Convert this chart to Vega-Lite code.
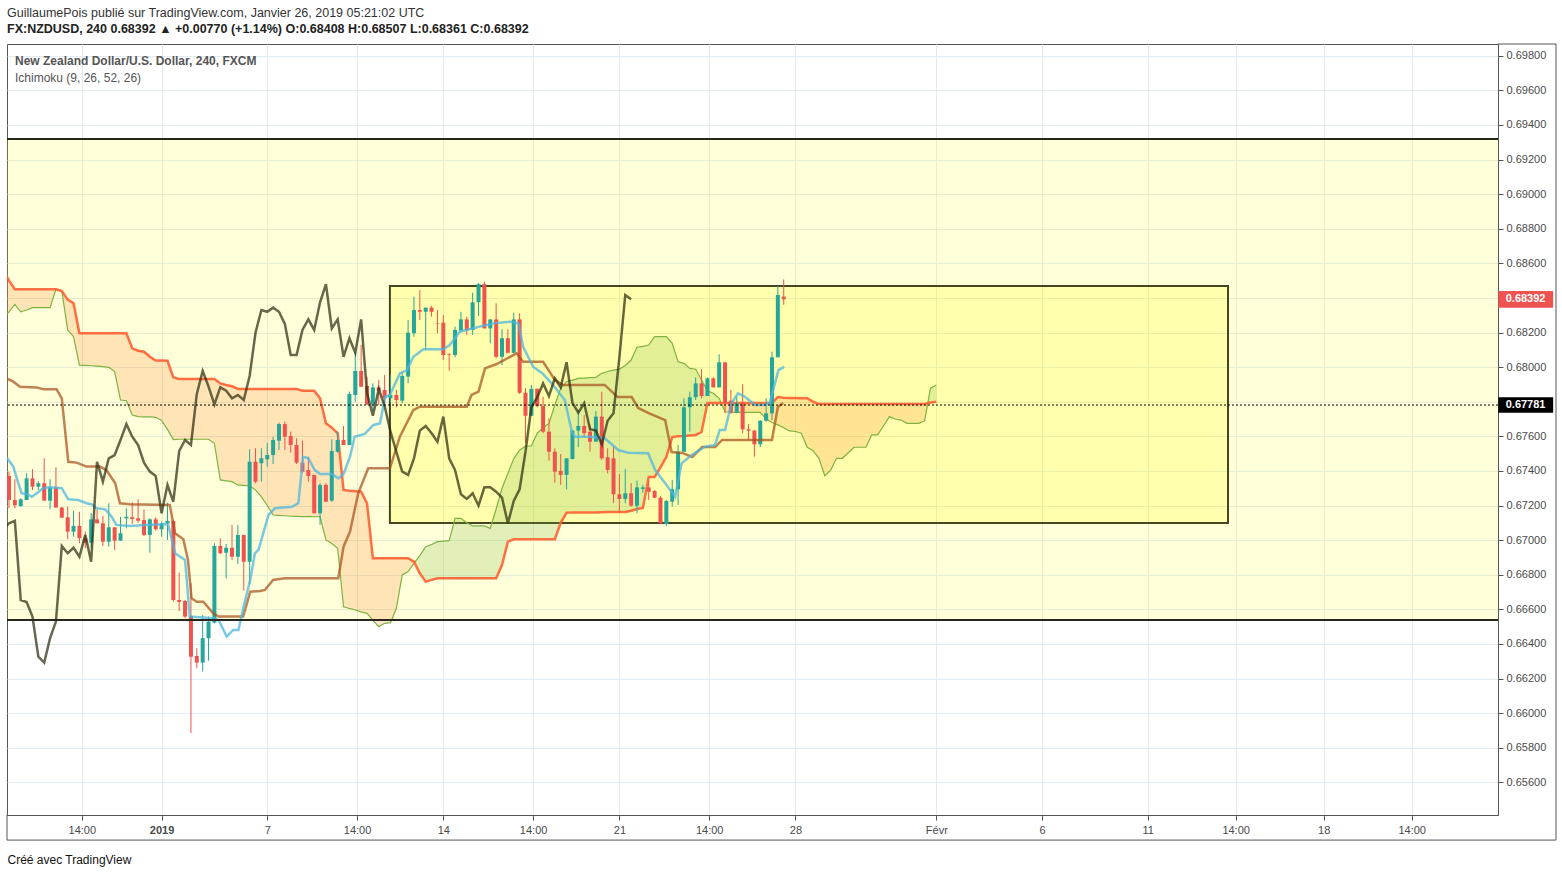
{
"$schema": "https://vega.github.io/schema/vega-lite/v6.json",
"width": 1491, "height": 771,
"autosize": {"type": "none"},
"padding": {"left": 7, "top": 44, "right": 64, "bottom": 62},
"background": "white",
"title": {
 "text": "GuillaumePois publié sur TradingView.com, Janvier 26, 2019 05:21:02 UTC",
 "subtitle": "FX:NZDUSD, 240  0.68392 ▲ +0.00770 (+1.14%)  O:0.68408  H:0.68507  L:0.68361  C:0.68392",
 "anchor": "start", "frame": "group", "offset": 8,
 "font": "Liberation Sans", "fontSize": 12.5, "fontWeight": "normal", "color": "#333333",
 "subtitleFont": "Liberation Sans", "subtitleFontSize": 12.5, "subtitleColor": "#222222", "subtitleFontWeight": "bold", "subtitlePadding": 4
},
"datasets": {
"candles": [
{"k":0,"o":0.67371,"h":0.67396,"l":0.67184,"c":0.67232},
{"k":1,"o":0.67232,"h":0.67352,"l":0.67184,"c":0.67201},
{"k":2,"o":0.67197,"h":0.67242,"l":0.67193,"c":0.67236},
{"k":3,"o":0.67232,"h":0.67386,"l":0.67232,"c":0.67357},
{"k":4,"o":0.67357,"h":0.6741,"l":0.6729,"c":0.67309},
{"k":5,"o":0.67309,"h":0.67342,"l":0.6729,"c":0.67329},
{"k":6,"o":0.67329,"h":0.67473,"l":0.67228,"c":0.67228},
{"k":7,"o":0.67228,"h":0.67352,"l":0.67178,"c":0.67305},
{"k":8,"o":0.67305,"h":0.67421,"l":0.67188,"c":0.67188},
{"k":9,"o":0.67188,"h":0.67192,"l":0.67128,"c":0.6713},
{"k":10,"o":0.67132,"h":0.67193,"l":0.67005,"c":0.67049},
{"k":11,"o":0.67049,"h":0.67168,"l":0.6702,"c":0.67082},
{"k":12,"o":0.67082,"h":0.67164,"l":0.66982,"c":0.67011},
{"k":13,"o":0.67011,"h":0.67049,"l":0.66953,"c":0.66985},
{"k":14,"o":0.66985,"h":0.67155,"l":0.66955,"c":0.6712},
{"k":15,"o":0.6712,"h":0.67178,"l":0.67097,"c":0.67097},
{"k":16,"o":0.67097,"h":0.6714,"l":0.66966,"c":0.66991},
{"k":17,"o":0.66991,"h":0.67213,"l":0.66962,"c":0.67074},
{"k":18,"o":0.67074,"h":0.67076,"l":0.66943,"c":0.66997},
{"k":19,"o":0.66997,"h":0.67135,"l":0.66997,"c":0.6704},
{"k":20,"o":0.67126,"h":0.67184,"l":0.67068,"c":0.67135},
{"k":21,"o":0.67132,"h":0.67219,"l":0.67093,"c":0.67122},
{"k":22,"o":0.67126,"h":0.67236,"l":0.67101,"c":0.67112},
{"k":23,"o":0.67116,"h":0.67178,"l":0.67024,"c":0.6703},
{"k":24,"o":0.6703,"h":0.67126,"l":0.66927,"c":0.6712},
{"k":25,"o":0.6712,"h":0.67132,"l":0.67055,"c":0.67063},
{"k":26,"o":0.67063,"h":0.67107,"l":0.6702,"c":0.67097},
{"k":27,"o":0.67097,"h":0.67216,"l":0.67001,"c":0.67111},
{"k":28,"o":0.67111,"h":0.67116,"l":0.66644,"c":0.66654},
{"k":29,"o":0.66654,"h":0.66812,"l":0.6659,"c":0.66642},
{"k":30,"o":0.66648,"h":0.66654,"l":0.66548,"c":0.66558},
{"k":31,"o":0.66562,"h":0.66751,"l":0.65884,"c":0.66326},
{"k":32,"o":0.6633,"h":0.66375,"l":0.66259,"c":0.66292},
{"k":33,"o":0.66292,"h":0.66567,"l":0.6624,"c":0.66433},
{"k":34,"o":0.66433,"h":0.66558,"l":0.66303,"c":0.66529},
{"k":35,"o":0.66523,"h":0.66982,"l":0.66519,"c":0.66966},
{"k":36,"o":0.66966,"h":0.67011,"l":0.6692,"c":0.66924},
{"k":37,"o":0.66927,"h":0.66978,"l":0.66779,"c":0.66956},
{"k":38,"o":0.66956,"h":0.67088,"l":0.66885,"c":0.66904},
{"k":39,"o":0.66904,"h":0.67088,"l":0.66862,"c":0.6703},
{"k":40,"o":0.6703,"h":0.6703,"l":0.66708,"c":0.66875},
{"k":41,"o":0.66875,"h":0.67525,"l":0.66745,"c":0.67453},
{"k":42,"o":0.67453,"h":0.67531,"l":0.67329,"c":0.67338},
{"k":43,"o":0.67444,"h":0.67531,"l":0.67338,"c":0.67473},
{"k":44,"o":0.67467,"h":0.67563,"l":0.67425,"c":0.67492},
{"k":45,"o":0.67492,"h":0.67598,"l":0.6744,"c":0.67579},
{"k":46,"o":0.67575,"h":0.67679,"l":0.67521,"c":0.67671},
{"k":47,"o":0.67671,"h":0.67685,"l":0.67521,"c":0.67598},
{"k":48,"o":0.67602,"h":0.67627,"l":0.67505,"c":0.6755},
{"k":49,"o":0.6755,"h":0.67589,"l":0.6744,"c":0.67448},
{"k":50,"o":0.67448,"h":0.67575,"l":0.6739,"c":0.67396},
{"k":51,"o":0.67405,"h":0.67482,"l":0.67338,"c":0.67371},
{"k":52,"o":0.67377,"h":0.67377,"l":0.67155,"c":0.67155},
{"k":53,"o":0.67155,"h":0.67329,"l":0.67088,"c":0.67319},
{"k":54,"o":0.67319,"h":0.67329,"l":0.67222,"c":0.67222},
{"k":55,"o":0.67228,"h":0.67583,"l":0.67222,"c":0.67515},
{"k":56,"o":0.67511,"h":0.67627,"l":0.67505,"c":0.67579},
{"k":57,"o":0.67579,"h":0.6766,"l":0.6755,"c":0.6755},
{"k":58,"o":0.6755,"h":0.67858,"l":0.6755,"c":0.67845},
{"k":59,"o":0.67839,"h":0.68089,"l":0.678,"c":0.67978},
{"k":60,"o":0.67978,"h":0.68128,"l":0.67887,"c":0.67887},
{"k":61,"o":0.67891,"h":0.67945,"l":0.67781,"c":0.67785},
{"k":62,"o":0.67785,"h":0.67906,"l":0.67752,"c":0.67883},
{"k":63,"o":0.67883,"h":0.67926,"l":0.67781,"c":0.67864},
{"k":64,"o":0.67868,"h":0.67955,"l":0.67791,"c":0.6782},
{"k":65,"o":0.6782,"h":0.67955,"l":0.67793,"c":0.67839},
{"k":66,"o":0.67839,"h":0.67868,"l":0.67768,"c":0.6781},
{"k":67,"o":0.67806,"h":0.67974,"l":0.67791,"c":0.67949},
{"k":68,"o":0.67945,"h":0.68272,"l":0.67906,"c":0.68199},
{"k":69,"o":0.68196,"h":0.68407,"l":0.68176,"c":0.6833},
{"k":70,"o":0.6833,"h":0.68446,"l":0.68272,"c":0.6832},
{"k":71,"o":0.6832,"h":0.68344,"l":0.68099,"c":0.68344},
{"k":72,"o":0.68344,"h":0.68353,"l":0.68292,"c":0.6832},
{"k":73,"o":0.68253,"h":0.6833,"l":0.68196,"c":0.6825},
{"k":74,"o":0.68257,"h":0.68301,"l":0.68041,"c":0.6807},
{"k":75,"o":0.68074,"h":0.6808,"l":0.67979,"c":0.6807},
{"k":76,"o":0.6807,"h":0.68234,"l":0.68057,"c":0.68215},
{"k":77,"o":0.68211,"h":0.6832,"l":0.68205,"c":0.68276},
{"k":78,"o":0.68276,"h":0.68292,"l":0.68186,"c":0.68215},
{"k":79,"o":0.68215,"h":0.6843,"l":0.68186,"c":0.68375},
{"k":80,"o":0.68375,"h":0.68485,"l":0.68296,"c":0.6848},
{"k":81,"o":0.6848,"h":0.68494,"l":0.68224,"c":0.68224},
{"k":82,"o":0.68224,"h":0.68276,"l":0.68138,"c":0.68276},
{"k":83,"o":0.68276,"h":0.68369,"l":0.68051,"c":0.6806},
{"k":84,"o":0.6806,"h":0.68219,"l":0.68012,"c":0.68167},
{"k":85,"o":0.68167,"h":0.68219,"l":0.6808,"c":0.68083},
{"k":86,"o":0.68083,"h":0.68315,"l":0.6808,"c":0.68276},
{"k":87,"o":0.68276,"h":0.68311,"l":0.67845,"c":0.67852},
{"k":88,"o":0.67852,"h":0.67878,"l":0.67563,"c":0.67719},
{"k":89,"o":0.67719,"h":0.67897,"l":0.67719,"c":0.67874},
{"k":90,"o":0.67874,"h":0.67878,"l":0.67768,"c":0.67775},
{"k":91,"o":0.67775,"h":0.67829,"l":0.67618,"c":0.67627},
{"k":92,"o":0.67627,"h":0.67704,"l":0.67459,"c":0.67511},
{"k":93,"o":0.67511,"h":0.67531,"l":0.67332,"c":0.67396},
{"k":94,"o":0.674,"h":0.67498,"l":0.67319,"c":0.67377},
{"k":95,"o":0.67377,"h":0.67473,"l":0.67294,"c":0.67473},
{"k":96,"o":0.67469,"h":0.67637,"l":0.67467,"c":0.67633},
{"k":97,"o":0.67633,"h":0.67752,"l":0.67537,"c":0.6766},
{"k":98,"o":0.6766,"h":0.67723,"l":0.67598,"c":0.67618},
{"k":99,"o":0.67627,"h":0.67666,"l":0.67511,"c":0.67569},
{"k":100,"o":0.67569,"h":0.67746,"l":0.67569,"c":0.67714},
{"k":101,"o":0.67714,"h":0.67858,"l":0.67463,"c":0.67473},
{"k":102,"o":0.67479,"h":0.67531,"l":0.67386,"c":0.67405},
{"k":103,"o":0.67473,"h":0.67544,"l":0.67213,"c":0.67265},
{"k":104,"o":0.67265,"h":0.67382,"l":0.67159,"c":0.67238},
{"k":105,"o":0.67238,"h":0.6741,"l":0.67213,"c":0.67271},
{"k":106,"o":0.67271,"h":0.67329,"l":0.67193,"c":0.67199},
{"k":107,"o":0.67199,"h":0.67344,"l":0.67155,"c":0.67305},
{"k":108,"o":0.67296,"h":0.67319,"l":0.67274,"c":0.67305},
{"k":109,"o":0.67305,"h":0.67344,"l":0.67232,"c":0.6728},
{"k":110,"o":0.67284,"h":0.6729,"l":0.67242,"c":0.67245},
{"k":111,"o":0.67245,"h":0.67255,"l":0.67093,"c":0.67097},
{"k":112,"o":0.67093,"h":0.67232,"l":0.67082,"c":0.67226},
{"k":113,"o":0.67222,"h":0.67348,"l":0.67193,"c":0.67294},
{"k":114,"o":0.67294,"h":0.6755,"l":0.67203,"c":0.67511},
{"k":115,"o":0.67511,"h":0.6782,"l":0.67511,"c":0.67768},
{"k":116,"o":0.67768,"h":0.67858,"l":0.67627,"c":0.67826},
{"k":117,"o":0.67826,"h":0.67941,"l":0.6781,"c":0.67906},
{"k":118,"o":0.67906,"h":0.67988,"l":0.6782,"c":0.67833},
{"k":119,"o":0.67833,"h":0.67941,"l":0.67833,"c":0.67935},
{"k":120,"o":0.67935,"h":0.67941,"l":0.67883,"c":0.67883},
{"k":121,"o":0.67883,"h":0.68074,"l":0.67883,"c":0.68028},
{"k":122,"o":0.68028,"h":0.68028,"l":0.67733,"c":0.67794},
{"k":123,"o":0.67806,"h":0.67868,"l":0.67729,"c":0.67737},
{"k":124,"o":0.67737,"h":0.67829,"l":0.67733,"c":0.67791},
{"k":125,"o":0.67791,"h":0.67901,"l":0.67618,"c":0.67641},
{"k":126,"o":0.67641,"h":0.67671,"l":0.67579,"c":0.67633},
{"k":127,"o":0.67633,"h":0.67637,"l":0.67482,"c":0.67554},
{"k":128,"o":0.67554,"h":0.67694,"l":0.67537,"c":0.6769},
{"k":129,"o":0.6769,"h":0.6782,"l":0.67685,"c":0.67733},
{"k":130,"o":0.67733,"h":0.68089,"l":0.67694,"c":0.68057},
{"k":131,"o":0.68057,"h":0.68469,"l":0.68057,"c":0.68417},
{"k":132,"o":0.68408,"h":0.68507,"l":0.68361,"c":0.68392}
],
"ichi": [
{"k":-1,"a":0.6828,"b":0.6856,"seg":"bear1"},
{"k":0,"a":0.6832,"b":0.685,"seg":"bear1"},
{"k":1,"a":0.68363,"b":0.6845,"seg":"bear1"},
{"k":2,"a":0.6832,"b":0.6845,"seg":"bear1"},
{"k":3,"a":0.6833,"b":0.6845,"seg":"bear1"},
{"k":4,"a":0.68344,"b":0.6845,"seg":"bear1"},
{"k":5,"a":0.68344,"b":0.6845,"seg":"bear1"},
{"k":6,"a":0.68344,"b":0.6845,"seg":"bear1"},
{"k":7,"a":0.68344,"b":0.6845,"seg":"bear1"},
{"k":8,"a":0.6845,"b":0.6845,"seg":"bear1"},
{"k":9,"a":0.6844,"b":0.6844,"seg":"bear1"},
{"k":10,"a":0.68215,"b":0.6839,"seg":"bear1"},
{"k":11,"a":0.68176,"b":0.68369,"seg":"bear1"},
{"k":12,"a":0.68012,"b":0.68196,"seg":"bear1"},
{"k":13,"a":0.6801,"b":0.68196,"seg":"bear1"},
{"k":14,"a":0.68008,"b":0.68196,"seg":"bear1"},
{"k":15,"a":0.68006,"b":0.68196,"seg":"bear1"},
{"k":16,"a":0.68003,"b":0.68196,"seg":"bear1"},
{"k":17,"a":0.67999,"b":0.68196,"seg":"bear1"},
{"k":18,"a":0.67974,"b":0.68196,"seg":"bear1"},
{"k":19,"a":0.6781,"b":0.68196,"seg":"bear1"},
{"k":20,"a":0.67806,"b":0.68196,"seg":"bear1"},
{"k":21,"a":0.67723,"b":0.68109,"seg":"bear1"},
{"k":22,"a":0.67714,"b":0.68095,"seg":"bear1"},
{"k":23,"a":0.67713,"b":0.68089,"seg":"bear1"},
{"k":24,"a":0.67712,"b":0.6806,"seg":"bear1"},
{"k":25,"a":0.6771,"b":0.68038,"seg":"bear1"},
{"k":26,"a":0.67692,"b":0.68038,"seg":"bear1"},
{"k":27,"a":0.6764,"b":0.68037,"seg":"bear1"},
{"k":28,"a":0.67581,"b":0.67941,"seg":"bear1"},
{"k":29,"a":0.67583,"b":0.67931,"seg":"bear1"},
{"k":30,"a":0.67583,"b":0.67931,"seg":"bear1"},
{"k":31,"a":0.67583,"b":0.67931,"seg":"bear1"},
{"k":32,"a":0.67583,"b":0.67931,"seg":"bear1"},
{"k":33,"a":0.67583,"b":0.67931,"seg":"bear1"},
{"k":34,"a":0.67583,"b":0.67931,"seg":"bear1"},
{"k":35,"a":0.6756,"b":0.67931,"seg":"bear1"},
{"k":36,"a":0.67348,"b":0.67906,"seg":"bear1"},
{"k":37,"a":0.67343,"b":0.67897,"seg":"bear1"},
{"k":38,"a":0.67338,"b":0.6789,"seg":"bear1"},
{"k":39,"a":0.67319,"b":0.67874,"seg":"bear1"},
{"k":40,"a":0.67316,"b":0.67874,"seg":"bear1"},
{"k":41,"a":0.67313,"b":0.67874,"seg":"bear1"},
{"k":42,"a":0.6729,"b":0.67874,"seg":"bear1"},
{"k":43,"a":0.67251,"b":0.67874,"seg":"bear1"},
{"k":44,"a":0.672,"b":0.67874,"seg":"bear1"},
{"k":45,"a":0.67145,"b":0.67874,"seg":"bear1"},
{"k":46,"a":0.67143,"b":0.67874,"seg":"bear1"},
{"k":47,"a":0.67141,"b":0.67874,"seg":"bear1"},
{"k":48,"a":0.67138,"b":0.67874,"seg":"bear1"},
{"k":49,"a":0.67137,"b":0.67874,"seg":"bear1"},
{"k":50,"a":0.67136,"b":0.67864,"seg":"bear1"},
{"k":51,"a":0.67136,"b":0.67864,"seg":"bear1"},
{"k":52,"a":0.67135,"b":0.67864,"seg":"bear1"},
{"k":53,"a":0.67135,"b":0.6782,"seg":"bear1"},
{"k":54,"a":0.67001,"b":0.67675,"seg":"bear1"},
{"k":55,"a":0.6698,"b":0.6765,"seg":"bear1"},
{"k":56,"a":0.66953,"b":0.67618,"seg":"bear1"},
{"k":57,"a":0.66615,"b":0.6729,"seg":"bear1"},
{"k":58,"a":0.66605,"b":0.67285,"seg":"bear1"},
{"k":59,"a":0.66596,"b":0.67283,"seg":"bear1"},
{"k":60,"a":0.66585,"b":0.6728,"seg":"bear1"},
{"k":61,"a":0.66577,"b":0.67213,"seg":"bear1"},
{"k":62,"a":0.66538,"b":0.66895,"seg":"bear1"},
{"k":63,"a":0.665,"b":0.66895,"seg":"bear1"},
{"k":64,"a":0.66519,"b":0.66895,"seg":"bear1"},
{"k":65,"a":0.66523,"b":0.66895,"seg":"bear1"},
{"k":66,"a":0.66606,"b":0.66895,"seg":"bear1"},
{"k":67,"a":0.66799,"b":0.66895,"seg":"bear1"},
{"k":68,"a":0.66818,"b":0.66895,"seg":"bear1"},
{"k":69,"a":0.66866,"b":0.66875,"seg":"bear1"},
{"k":69.08,"a":0.6687,"b":0.6687,"seg":"bear1"},
{"k":69.08,"a":0.6687,"b":0.6687,"seg":"bull1"},
{"k":70,"a":0.6691,"b":0.66808,"seg":"bull1"},
{"k":71,"a":0.66962,"b":0.6676,"seg":"bull1"},
{"k":72,"a":0.66975,"b":0.6677,"seg":"bull1"},
{"k":73,"a":0.66991,"b":0.66779,"seg":"bull1"},
{"k":74,"a":0.66994,"b":0.66779,"seg":"bull1"},
{"k":75,"a":0.66997,"b":0.66779,"seg":"bull1"},
{"k":76,"a":0.67126,"b":0.66779,"seg":"bull1"},
{"k":77,"a":0.67126,"b":0.66779,"seg":"bull1"},
{"k":78,"a":0.671,"b":0.66779,"seg":"bull1"},
{"k":79,"a":0.67082,"b":0.66779,"seg":"bull1"},
{"k":80,"a":0.67082,"b":0.66779,"seg":"bull1"},
{"k":81,"a":0.67082,"b":0.66779,"seg":"bull1"},
{"k":82,"a":0.67068,"b":0.66779,"seg":"bull1"},
{"k":83,"a":0.6718,"b":0.66779,"seg":"bull1"},
{"k":84,"a":0.673,"b":0.66856,"seg":"bull1"},
{"k":85,"a":0.67386,"b":0.66991,"seg":"bull1"},
{"k":86,"a":0.6747,"b":0.67005,"seg":"bull1"},
{"k":87,"a":0.6752,"b":0.67005,"seg":"bull1"},
{"k":88,"a":0.67544,"b":0.67005,"seg":"bull1"},
{"k":89,"a":0.67544,"b":0.67005,"seg":"bull1"},
{"k":90,"a":0.67618,"b":0.67005,"seg":"bull1"},
{"k":91,"a":0.6765,"b":0.67005,"seg":"bull1"},
{"k":92,"a":0.67675,"b":0.67005,"seg":"bull1"},
{"k":93,"a":0.67781,"b":0.67005,"seg":"bull1"},
{"k":94,"a":0.67878,"b":0.671,"seg":"bull1"},
{"k":95,"a":0.67916,"b":0.67159,"seg":"bull1"},
{"k":96,"a":0.67925,"b":0.6716,"seg":"bull1"},
{"k":97,"a":0.67935,"b":0.6716,"seg":"bull1"},
{"k":98,"a":0.67937,"b":0.6716,"seg":"bull1"},
{"k":99,"a":0.67939,"b":0.6716,"seg":"bull1"},
{"k":100,"a":0.67941,"b":0.6716,"seg":"bull1"},
{"k":101,"a":0.67964,"b":0.67161,"seg":"bull1"},
{"k":102,"a":0.67975,"b":0.67162,"seg":"bull1"},
{"k":103,"a":0.67983,"b":0.67162,"seg":"bull1"},
{"k":104,"a":0.67988,"b":0.67163,"seg":"bull1"},
{"k":105,"a":0.6801,"b":0.67163,"seg":"bull1"},
{"k":106,"a":0.68041,"b":0.6717,"seg":"bull1"},
{"k":107,"a":0.68115,"b":0.6718,"seg":"bull1"},
{"k":108,"a":0.6812,"b":0.67186,"seg":"bull1"},
{"k":109,"a":0.68128,"b":0.67365,"seg":"bull1"},
{"k":110,"a":0.68176,"b":0.67365,"seg":"bull1"},
{"k":111,"a":0.68176,"b":0.6742,"seg":"bull1"},
{"k":112,"a":0.68176,"b":0.67481,"seg":"bull1"},
{"k":113,"a":0.68138,"b":0.67596,"seg":"bull1"},
{"k":114,"a":0.68031,"b":0.676,"seg":"bull1"},
{"k":115,"a":0.68022,"b":0.67602,"seg":"bull1"},
{"k":116,"a":0.67993,"b":0.67605,"seg":"bull1"},
{"k":117,"a":0.67988,"b":0.67608,"seg":"bull1"},
{"k":118,"a":0.67926,"b":0.67625,"seg":"bull1"},
{"k":119,"a":0.67864,"b":0.67793,"seg":"bull1"},
{"k":120,"a":0.67849,"b":0.67793,"seg":"bull1"},
{"k":121,"a":0.6782,"b":0.67793,"seg":"bull1"},
{"k":121.35,"a":0.67793,"b":0.67793,"seg":"bull1"},
{"k":121.35,"a":0.67793,"b":0.67793,"seg":"bear2"},
{"k":122,"a":0.67742,"b":0.67793,"seg":"bear2"},
{"k":123,"a":0.6774,"b":0.67793,"seg":"bear2"},
{"k":124,"a":0.67739,"b":0.67793,"seg":"bear2"},
{"k":125,"a":0.67739,"b":0.67793,"seg":"bear2"},
{"k":126,"a":0.67739,"b":0.67793,"seg":"bear2"},
{"k":127,"a":0.67739,"b":0.67793,"seg":"bear2"},
{"k":128,"a":0.67739,"b":0.67793,"seg":"bear2"},
{"k":129,"a":0.677,"b":0.67793,"seg":"bear2"},
{"k":130,"a":0.6768,"b":0.67793,"seg":"bear2"},
{"k":131,"a":0.67666,"b":0.67827,"seg":"bear2"},
{"k":132,"a":0.6765,"b":0.67823,"seg":"bear2"},
{"k":133,"a":0.67631,"b":0.67822,"seg":"bear2"},
{"k":134,"a":0.67628,"b":0.67821,"seg":"bear2"},
{"k":135,"a":0.67618,"b":0.6782,"seg":"bear2"},
{"k":136,"a":0.67537,"b":0.6782,"seg":"bear2"},
{"k":137,"a":0.67517,"b":0.678,"seg":"bear2"},
{"k":138,"a":0.67473,"b":0.67787,"seg":"bear2"},
{"k":139,"a":0.67371,"b":0.67787,"seg":"bear2"},
{"k":140,"a":0.67405,"b":0.67787,"seg":"bear2"},
{"k":141,"a":0.67473,"b":0.67787,"seg":"bear2"},
{"k":142,"a":0.67473,"b":0.67787,"seg":"bear2"},
{"k":143,"a":0.67505,"b":0.67787,"seg":"bear2"},
{"k":144,"a":0.67537,"b":0.67787,"seg":"bear2"},
{"k":145,"a":0.67537,"b":0.67787,"seg":"bear2"},
{"k":146,"a":0.67537,"b":0.67787,"seg":"bear2"},
{"k":147,"a":0.67608,"b":0.67787,"seg":"bear2"},
{"k":148,"a":0.67608,"b":0.67787,"seg":"bear2"},
{"k":149,"a":0.6766,"b":0.67787,"seg":"bear2"},
{"k":150,"a":0.67714,"b":0.67787,"seg":"bear2"},
{"k":151,"a":0.677,"b":0.67787,"seg":"bear2"},
{"k":152,"a":0.67694,"b":0.67787,"seg":"bear2"},
{"k":153,"a":0.67675,"b":0.67787,"seg":"bear2"},
{"k":154,"a":0.67675,"b":0.67787,"seg":"bear2"},
{"k":155,"a":0.67675,"b":0.67787,"seg":"bear2"},
{"k":156,"a":0.67689,"b":0.67787,"seg":"bear2"},
{"k":156.54,"a":0.67791,"b":0.67791,"seg":"bear2"},
{"k":156.54,"a":0.67791,"b":0.67791,"seg":"bull2"},
{"k":157,"a":0.67878,"b":0.67795,"seg":"bull2"},
{"k":158,"a":0.67897,"b":0.678,"seg":"bull2"}
],
"tenkan": [
{"k":-0.4,"v":0.67477},{"k":0.73,"v":0.67425},{"k":1.58,"v":0.67329},{"k":2.16,"v":0.67271},{"k":3.02,"v":0.67267},{"k":3.87,"v":0.67251},{"k":4.72,"v":0.67271},{"k":5.84,"v":0.673},{"k":6.98,"v":0.67305},{"k":8.98,"v":0.673},{"k":10.1,"v":0.67236},{"k":11.8,"v":0.67232},{"k":13.2,"v":0.67213},{"k":14.1,"v":0.67207},{"k":14.9,"v":0.67184},{"k":16.4,"v":0.67178},{"k":17.5,"v":0.67135},{"k":18.3,"v":0.67088},{"k":20.6,"v":0.67082},{"k":23.2,"v":0.67088},{"k":27.1,"v":0.67093},{"k":28.3,"v":0.66924},{"k":30.0,"v":0.66885},{"k":30.8,"v":0.66558},{"k":34.8,"v":0.66548},{"k":35.7,"v":0.66538},{"k":37.1,"v":0.66442},{"k":38.2,"v":0.66481},{"k":39.1,"v":0.66481},{"k":39.9,"v":0.66606},{"k":41.1,"v":0.6677},{"k":41.9,"v":0.66924},{"k":42.5,"v":0.66943},{"k":44.2,"v":0.67145},{"k":45.3,"v":0.67184},{"k":48.2,"v":0.67193},{"k":49.3,"v":0.67213},{"k":50.1,"v":0.67482},{"k":51.0,"v":0.67473},{"k":52.1,"v":0.67405},{"k":53.0,"v":0.67382},{"k":55.0,"v":0.67382},{"k":56.1,"v":0.67357},{"k":57.0,"v":0.67382},{"k":58.1,"v":0.67482},{"k":58.9,"v":0.67598},{"k":60.6,"v":0.67614},{"k":62.1,"v":0.67666},{"k":63.2,"v":0.67675},{"k":64.1,"v":0.67829},{"k":64.9,"v":0.67839},{"k":66.6,"v":0.67964},{"k":67.8,"v":0.67983},{"k":68.9,"v":0.6806},{"k":70.6,"v":0.68103},{"k":74.0,"v":0.68103},{"k":75.1,"v":0.68128},{"k":76.8,"v":0.68205},{"k":80.2,"v":0.68234},{"k":82.5,"v":0.68253},{"k":85.3,"v":0.68263},{"k":86.8,"v":0.68253},{"k":87.6,"v":0.68118},{"k":89.3,"v":0.68002},{"k":91.0,"v":0.6796},{"k":92.7,"v":0.67897},{"k":94.7,"v":0.6781},{"k":95.9,"v":0.67627},{"k":96.4,"v":0.67598},{"k":99.0,"v":0.67598},{"k":101.5,"v":0.67589},{"k":103.8,"v":0.67521},{"k":105.5,"v":0.67505},{"k":108.9,"v":0.67502},{"k":110.1,"v":0.67405},{"k":111.8,"v":0.67329},{"k":113.5,"v":0.67251},{"k":114.6,"v":0.67444},{"k":116.3,"v":0.67492},{"k":118.6,"v":0.6754},{"k":120.3,"v":0.6755},{"k":121.1,"v":0.67637},{"k":122.0,"v":0.67637},{"k":123.1,"v":0.67791},{"k":124.2,"v":0.67849},{"k":125.4,"v":0.67829},{"k":127.1,"v":0.67781},{"k":128.8,"v":0.67781},{"k":129.6,"v":0.67791},{"k":131.1,"v":0.67983},{"k":132.1,"v":0.68002}
],
"kijun": [
{"k":-0.4,"v":0.67935},{"k":0.73,"v":0.67916},{"k":1.87,"v":0.67887},{"k":4.72,"v":0.67883},{"k":5.84,"v":0.67872},{"k":8.1,"v":0.67872},{"k":9.0,"v":0.6782},{"k":10.1,"v":0.67453},{"k":11.5,"v":0.67448},{"k":13.2,"v":0.67425},{"k":15.5,"v":0.67425},{"k":16.6,"v":0.67405},{"k":18.1,"v":0.67329},{"k":18.9,"v":0.67213},{"k":20.6,"v":0.67207},{"k":27.4,"v":0.67203},{"k":28.3,"v":0.6704},{"k":29.7,"v":0.67005},{"k":30.5,"v":0.66885},{"k":31.1,"v":0.66664},{"k":32.0,"v":0.66644},{"k":33.1,"v":0.66644},{"k":34.8,"v":0.66577},{"k":35.7,"v":0.66558},{"k":39.9,"v":0.66558},{"k":41.1,"v":0.66702},{"k":42.8,"v":0.66706},{"k":43.6,"v":0.66712},{"k":45.0,"v":0.6677},{"k":47.0,"v":0.66779},{"k":56.1,"v":0.66779},{"k":57.0,"v":0.66962},{"k":58.1,"v":0.67049},{"k":59.5,"v":0.67271},{"k":61.2,"v":0.67415},{"k":64.9,"v":0.67415},{"k":66.6,"v":0.67598},{"k":68.9,"v":0.67752},{"k":70.0,"v":0.67771},{"k":78.0,"v":0.67771},{"k":78.8,"v":0.67839},{"k":80.0,"v":0.67858},{"k":81.1,"v":0.67993},{"k":83.1,"v":0.68018},{"k":86.5,"v":0.6808},{"k":87.6,"v":0.68031},{"k":91.0,"v":0.68031},{"k":93.0,"v":0.67926},{"k":94.4,"v":0.67897},{"k":101.5,"v":0.67897},{"k":103.7,"v":0.67827},{"k":106.1,"v":0.67827},{"k":107.2,"v":0.67764},{"k":108.9,"v":0.67735},{"k":111.8,"v":0.67694},{"k":112.9,"v":0.67509},{"k":114.7,"v":0.67504},{"k":116.4,"v":0.67481},{"k":118.1,"v":0.67538},{"k":120.3,"v":0.67538},{"k":121.5,"v":0.67579},{"k":130.0,"v":0.67579},{"k":131.0,"v":0.6777},{"k":131.9,"v":0.67793}
],
"chikou": [
{"k":-1,"v":0.67063},{"k":0,"v":0.67097},{"k":1,"v":0.67111},{"k":2,"v":0.66654},{"k":3,"v":0.66642},{"k":4,"v":0.66558},{"k":5,"v":0.66326},{"k":6,"v":0.66292},{"k":7,"v":0.66433},{"k":8,"v":0.66529},{"k":9,"v":0.66966},{"k":10,"v":0.66924},{"k":11,"v":0.66956},{"k":12,"v":0.66904},{"k":13,"v":0.6703},{"k":14,"v":0.66875},{"k":15,"v":0.67453},{"k":16,"v":0.67338},{"k":17,"v":0.67473},{"k":18,"v":0.67492},{"k":19,"v":0.67579},{"k":20,"v":0.67671},{"k":21,"v":0.67598},{"k":22,"v":0.6755},{"k":23,"v":0.67448},{"k":24,"v":0.67396},{"k":25,"v":0.67371},{"k":26,"v":0.67155},{"k":27,"v":0.67319},{"k":28,"v":0.67222},{"k":29,"v":0.67515},{"k":30,"v":0.67579},{"k":31,"v":0.6755},{"k":32,"v":0.67845},{"k":33,"v":0.67978},{"k":34,"v":0.67887},{"k":35,"v":0.67785},{"k":36,"v":0.67883},{"k":37,"v":0.67864},{"k":38,"v":0.6782},{"k":39,"v":0.67839},{"k":40,"v":0.6781},{"k":41,"v":0.67949},{"k":42,"v":0.68199},{"k":43,"v":0.6833},{"k":44,"v":0.6832},{"k":45,"v":0.68344},{"k":46,"v":0.6832},{"k":47,"v":0.6825},{"k":48,"v":0.6807},{"k":49,"v":0.6807},{"k":50,"v":0.68215},{"k":51,"v":0.68276},{"k":52,"v":0.68215},{"k":53,"v":0.68375},{"k":54,"v":0.6848},{"k":55,"v":0.68224},{"k":56,"v":0.68276},{"k":57,"v":0.6806},{"k":58,"v":0.68167},{"k":59,"v":0.68083},{"k":60,"v":0.68276},{"k":61,"v":0.67852},{"k":62,"v":0.67719},{"k":63,"v":0.67874},{"k":64,"v":0.67775},{"k":65,"v":0.67627},{"k":66,"v":0.67511},{"k":67,"v":0.67396},{"k":68,"v":0.67377},{"k":69,"v":0.67473},{"k":70,"v":0.67633},{"k":71,"v":0.6766},{"k":72,"v":0.67618},{"k":73,"v":0.67569},{"k":74,"v":0.67714},{"k":75,"v":0.67473},{"k":76,"v":0.67405},{"k":77,"v":0.67265},{"k":78,"v":0.67238},{"k":79,"v":0.67271},{"k":80,"v":0.67199},{"k":81,"v":0.67305},{"k":82,"v":0.67305},{"k":83,"v":0.6728},{"k":84,"v":0.67245},{"k":85,"v":0.67097},{"k":86,"v":0.67226},{"k":87,"v":0.67294},{"k":88,"v":0.67511},{"k":89,"v":0.67768},{"k":90,"v":0.67826},{"k":91,"v":0.67906},{"k":92,"v":0.67833},{"k":93,"v":0.67935},{"k":94,"v":0.67883},{"k":95,"v":0.68028},{"k":96,"v":0.67794},{"k":97,"v":0.67737},{"k":98,"v":0.67791},{"k":99,"v":0.67641},{"k":100,"v":0.67633},{"k":101,"v":0.67554},{"k":102,"v":0.6769},{"k":103,"v":0.67733},{"k":104,"v":0.68057},{"k":105,"v":0.68417},{"k":106,"v":0.68392}
],
"one": [{}]
},
"layer": [
{
 "data": {"name": "one"},
 "mark": {"type": "rect", "color": "#ffff00", "opacity": 0.15, "clip": true},
 "encoding": {
  "x": {"datum": -2, "type": "quantitative", "scale": {"domain": [-0.34, 253.7], "nice": false, "zero": false, "padding": 0},
   "axis": {"orient": "bottom", "values": [12.4, 26, 44, 59.3, 74, 89.3, 104, 119.3, 134, 158, 176, 194, 209, 224, 239],
    "labelExpr": "['14:00','2019','7','14:00','14','14:00','21','14:00','28','Févr','6','11','14:00','18','14:00'][indexof([12.4,26,44,59.3,74,89.3,104,119.3,134,158,176,194,209,224,239], datum.value)]",
    "labelFontWeight": {"condition": {"test": "datum.value == 26", "value": "bold"}, "value": "normal"},
    "grid": true, "tickSize": 5, "labelPadding": 4, "labelFlush": false, "labelOverlap": false,
    "title": "Créé avec TradingView", "titleAnchor": "start", "titleAlign": "left", "titleFontSize": 12, "titleFontWeight": "normal", "titleColor": "#111111", "titlePadding": 19}},
  "x2": {"datum": 256},
  "y": {"datum": 0.69319, "type": "quantitative", "scale": {"domain": [0.65411, 0.69868], "nice": false, "zero": false},
   "axis": {"orient": "right", "values": [0.656,0.658,0.66,0.662,0.664,0.666,0.668,0.67,0.672,0.674,0.676,0.678,0.68,0.682,0.684,0.686,0.688,0.69,0.692,0.694,0.696,0.698],
    "tickCount": 22, "format": ".5f",
    "labelExpr": "(abs(datum.value - 0.684) < 0.0001 || abs(datum.value - 0.678) < 0.0001) ? '' : datum.label",
    "grid": true, "tickSize": 5, "labelPadding": 3, "title": "", "labelOverlap": false, "labelSeparation": 0, "labelBound": false}},
  "y2": {"datum": 0.66538}
 }
},
{
 "data": {"name": "one"},
 "mark": {"type": "rect", "fill": "#ffff00", "fillOpacity": 0.2, "stroke": "#45451f", "strokeWidth": 2},
 "encoding": {
  "x": {"datum": 64.9, "type": "quantitative", "scale": {"domain": [-0.34, 253.7], "nice": false, "zero": false, "padding": 0}},
  "x2": {"datum": 207.7},
  "y": {"datum": 0.68469, "type": "quantitative", "scale": {"domain": [0.65411, 0.69868], "nice": false, "zero": false}},
  "y2": {"datum": 0.67099}
 }
},
{
 "data": {"name": "ichi"},
 "mark": {"type": "area", "fillOpacity": 0.21, "clip": true},
 "encoding": {
  "x": {"field": "k", "type": "quantitative", "scale": {"domain": [-0.34, 253.7], "nice": false, "zero": false, "padding": 0}},
  "y": {"field": "a", "type": "quantitative", "scale": {"domain": [0.65411, 0.69868], "nice": false, "zero": false}},
  "y2": {"field": "b"},
  "fill": {"field": "seg", "type": "nominal", "scale": {"domain": ["bear1", "bull1", "bear2", "bull2"], "range": ["#ff8030", "#7cb342", "#ff8030", "#7cb342"]}, "legend": null}
 }
},
{
 "data": {"name": "ichi"},
 "mark": {"type": "line", "stroke": "#7cb342", "strokeWidth": 1.2, "clip": true},
 "encoding": {
  "x": {"field": "k", "type": "quantitative", "scale": {"domain": [-0.34, 253.7], "nice": false, "zero": false, "padding": 0}},
  "y": {"field": "a", "type": "quantitative", "scale": {"domain": [0.65411, 0.69868], "nice": false, "zero": false}}
 }
},
{
 "data": {"name": "ichi"},
 "mark": {"type": "line", "stroke": "#ff5f33", "strokeWidth": 2.5, "opacity": 0.9, "clip": true},
 "encoding": {
  "x": {"field": "k", "type": "quantitative", "scale": {"domain": [-0.34, 253.7], "nice": false, "zero": false, "padding": 0}},
  "y": {"field": "b", "type": "quantitative", "scale": {"domain": [0.65411, 0.69868], "nice": false, "zero": false}}
 }
},
{
 "data": {"name": "candles"},
 "mark": {"type": "rule", "strokeWidth": 1},
 "encoding": {
  "x": {"field": "k", "type": "quantitative", "scale": {"domain": [-0.34, 253.7], "nice": false, "zero": false, "padding": 0}},
  "y": {"field": "l", "type": "quantitative", "scale": {"domain": [0.65411, 0.69868], "nice": false, "zero": false}},
  "y2": {"field": "h"},
  "color": {"condition": {"test": "datum.c >= datum.o", "value": "#26a69a"}, "value": "#ef5350"}
 }
},
{
 "data": {"name": "candles"},
 "mark": {"type": "bar", "width": 4},
 "encoding": {
  "x": {"field": "k", "type": "quantitative", "scale": {"domain": [-0.34, 253.7], "nice": false, "zero": false, "padding": 0}},
  "y": {"field": "o", "type": "quantitative", "scale": {"domain": [0.65411, 0.69868], "nice": false, "zero": false}},
  "y2": {"field": "c"},
  "color": {"condition": {"test": "datum.c >= datum.o", "value": "#26a69a"}, "value": "#ef5350"}
 }
},
{
 "data": {"name": "kijun"},
 "mark": {"type": "line", "stroke": "#a8501e", "strokeWidth": 2.5, "opacity": 0.72, "clip": true},
 "encoding": {
  "x": {"field": "k", "type": "quantitative", "scale": {"domain": [-0.34, 253.7], "nice": false, "zero": false, "padding": 0}},
  "y": {"field": "v", "type": "quantitative", "scale": {"domain": [0.65411, 0.69868], "nice": false, "zero": false}}
 }
},
{
 "data": {"name": "tenkan"},
 "mark": {"type": "line", "stroke": "#4db6e0", "strokeWidth": 2.5, "opacity": 0.75, "clip": true},
 "encoding": {
  "x": {"field": "k", "type": "quantitative", "scale": {"domain": [-0.34, 253.7], "nice": false, "zero": false, "padding": 0}},
  "y": {"field": "v", "type": "quantitative", "scale": {"domain": [0.65411, 0.69868], "nice": false, "zero": false}}
 }
},
{
 "data": {"name": "chikou"},
 "mark": {"type": "line", "strokeWidth": 2.5, "opacity": 0.72, "clip": true},
 "encoding": {
  "x": {"field": "k", "type": "quantitative", "scale": {"domain": [-0.34, 253.7], "nice": false, "zero": false, "padding": 0}},
  "y": {"field": "v", "type": "quantitative", "scale": {"domain": [0.65411, 0.69868], "nice": false, "zero": false}},
  "stroke": {"datum": "Ichimoku (9, 26, 52, 26)", "scale": {"range": ["#2e2d10"]},
   "legend": {"title": "New Zealand Dollar/U.S. Dollar, 240, FXCM", "orient": "none", "legendX": 8, "legendY": 12, "padding": 0,
    "titleFont": "Liberation Sans", "titleFontSize": 12, "titleFontWeight": "bold", "titleColor": "#555555", "titlePadding": 4, "titleLimit": 500,
    "labelFont": "Liberation Sans", "labelFontSize": 12, "labelColor": "#555555", "labelOffset": -12, "labelLimit": 500,
    "symbolSize": 0, "symbolStrokeWidth": 0, "symbolOpacity": 0}}
 }
},
{
 "data": {"name": "one"},
 "mark": {"type": "rule", "color": "#26261a", "strokeWidth": 2},
 "encoding": {"y": {"datum": 0.69319, "type": "quantitative", "scale": {"domain": [0.65411, 0.69868], "nice": false, "zero": false}}}
},
{
 "data": {"name": "one"},
 "mark": {"type": "rule", "color": "#26261a", "strokeWidth": 2},
 "encoding": {"y": {"datum": 0.66538, "type": "quantitative", "scale": {"domain": [0.65411, 0.69868], "nice": false, "zero": false}}}
},
{
 "data": {"name": "one"},
 "mark": {"type": "rule", "color": "#000000", "strokeWidth": 1, "strokeDash": [2, 2]},
 "encoding": {"y": {"datum": 0.67781, "type": "quantitative", "scale": {"domain": [0.65411, 0.69868], "nice": false, "zero": false}}}
},
{
 "data": {"name": "one"},
 "mark": {"type": "rule", "color": "#555555", "strokeWidth": 1},
 "encoding": {
  "x": {"datum": -0.34, "type": "quantitative", "scale": {"domain": [-0.34, 253.7], "nice": false, "zero": false, "padding": 0}},
  "x2": {"datum": 263.58},
  "y": {"datum": 0.65266, "type": "quantitative", "scale": {"domain": [0.65411, 0.69868], "nice": false, "zero": false}}
 }
},
{
 "data": {"name": "one"},
 "mark": {"type": "rule", "color": "#555555", "strokeWidth": 1},
 "encoding": {
  "x": {"datum": 263.58, "type": "quantitative", "scale": {"domain": [-0.34, 253.7], "nice": false, "zero": false, "padding": 0}},
  "y": {"datum": 0.69868, "type": "quantitative", "scale": {"domain": [0.65411, 0.69868], "nice": false, "zero": false}},
  "y2": {"datum": 0.65266}
 }
},
{
 "data": {"name": "one"},
 "mark": {"type": "rule", "color": "#555555", "strokeWidth": 1},
 "encoding": {
  "x": {"datum": 253.7, "type": "quantitative", "scale": {"domain": [-0.34, 253.7], "nice": false, "zero": false, "padding": 0}},
  "x2": {"datum": 263.58},
  "y": {"datum": 0.69868, "type": "quantitative", "scale": {"domain": [0.65411, 0.69868], "nice": false, "zero": false}}
 }
},
{
 "data": {"name": "one"},
 "mark": {"type": "rule", "color": "#555555", "strokeWidth": 1},
 "encoding": {
  "x": {"datum": -0.34, "type": "quantitative", "scale": {"domain": [-0.34, 253.7], "nice": false, "zero": false, "padding": 0}},
  "y": {"datum": 0.65411, "type": "quantitative", "scale": {"domain": [0.65411, 0.69868], "nice": false, "zero": false}},
  "y2": {"datum": 0.65266}
 }
},
{
 "data": {"name": "one"},
 "mark": {"type": "rect", "color": "#ef5350"},
 "encoding": {
  "x": {"datum": 253.75, "type": "quantitative", "scale": {"domain": [-0.34, 253.7], "nice": false, "zero": false, "padding": 0}},
  "x2": {"datum": 263.1},
  "y": {"datum": 0.6844, "type": "quantitative", "scale": {"domain": [0.65411, 0.69868], "nice": false, "zero": false}},
  "y2": {"datum": 0.68344}
 }
},
{
 "data": {"name": "one"},
 "mark": {"type": "rect", "color": "#000000"},
 "encoding": {
  "x": {"datum": 253.75, "type": "quantitative", "scale": {"domain": [-0.34, 253.7], "nice": false, "zero": false, "padding": 0}},
  "x2": {"datum": 263.1},
  "y": {"datum": 0.67826, "type": "quantitative", "scale": {"domain": [0.65411, 0.69868], "nice": false, "zero": false}},
  "y2": {"datum": 0.67736}
 }
},
{
 "data": {"name": "one"},
 "mark": {"type": "text", "color": "#ffffff", "fontSize": 11, "fontWeight": "bold", "align": "center", "baseline": "middle", "font": "Liberation Sans"},
 "encoding": {
  "x": {"datum": 258.4, "type": "quantitative", "scale": {"domain": [-0.34, 253.7], "nice": false, "zero": false, "padding": 0}},
  "y": {"datum": 0.68392, "type": "quantitative", "scale": {"domain": [0.65411, 0.69868], "nice": false, "zero": false}},
  "text": {"value": "0.68392"}
 }
},
{
 "data": {"name": "one"},
 "mark": {"type": "text", "color": "#ffffff", "fontSize": 11, "fontWeight": "bold", "align": "center", "baseline": "middle", "font": "Liberation Sans"},
 "encoding": {
  "x": {"datum": 258.4, "type": "quantitative", "scale": {"domain": [-0.34, 253.7], "nice": false, "zero": false, "padding": 0}},
  "y": {"datum": 0.67781, "type": "quantitative", "scale": {"domain": [0.65411, 0.69868], "nice": false, "zero": false}},
  "text": {"value": "0.67781"}
 }
}
],
"config": {
 "font": "Liberation Sans",
 "view": {"stroke": "#555555", "strokeWidth": 1},
 "scale": {"continuousPadding": 0},
 "axis": {"labelFont": "Liberation Sans", "labelFontSize": 11, "labelColor": "#4a4a4a", "tickColor": "#555555", "domainColor": "#555555", "gridColor": "#e1ecf2", "gridWidth": 1, "titleFont": "Liberation Sans"},
 "axisY": {"labelOverlap": false}
}
}
